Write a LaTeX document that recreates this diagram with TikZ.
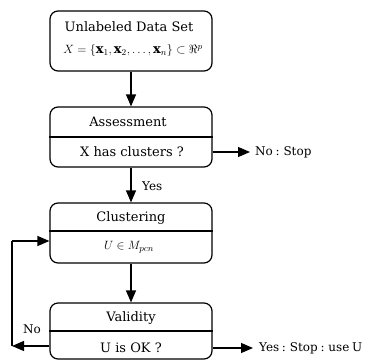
\documentclass[tikz,border=0pt]{standalone}
\usepackage{fontspec}
\setmainfont{DejaVu Serif}
\usetikzlibrary{arrows.meta}
\newcommand\myoutfnt{\fontsize{12}{14}\selectfont\spaceskip=0.22em plus 0.05em\relax}
\tikzset{
  box/.style={draw, line width=1.2pt, rounded corners=8pt, minimum width=162pt, inner sep=0pt},
  divider/.style={line width=1.8pt},
  txt/.style={inner sep=0pt, font=\fontsize{13}{15}\selectfont},
  outtxt/.style={inner sep=0pt, anchor=west, font=\myoutfnt},
  arr/.style={line width=1.2pt, -{Triangle[length=12pt,width=10pt]}},
  ln/.style={line width=1.2pt}
}
\begin{document}
\begin{tikzpicture}[x=1pt,y=-1pt]
\useasboundingbox (0,0) rectangle (369,361);
% boxes
\node[box, minimum height=60pt] (b1) at (131,41) {};
\node[box, minimum height=60pt] (b2) at (131,137) {};
\node[box, minimum height=60pt] (b3) at (131,233) {};
\node[box, minimum height=56pt] (b4) at (131,331) {};
% dividers
\coordinate (d2) at (0,137);
\coordinate (d3) at (0,231);
\coordinate (d4) at (0,331);
\draw[divider] (b2.west |- d2) -- (b2.east |- d2);
\draw[divider] (b3.west |- d3) -- (b3.east |- d3);
\draw[divider] (b4.west |- d4) -- (b4.east |- d4);
% texts
\node[txt] (t1a) at (129,27) {Unlabeled Data Set};
\node[txt] (t1b) at (133,51) {$X=\{\mathbf{x}_1,\mathbf{x}_2,\ldots,\mathbf{x}_n\}\subset\Re^p$};
\node[txt] (t2a) at (128,122) {Assessment};
\node[txt] (t2b) at (132,152) {X has clusters ?};
\node[txt] (t3a) at (131,218) {Clustering};
\node[txt] (t3b) at (129,247) {$U\in M_{pcn}$};
\node[txt] (t4a) at (131,318) {Validity};
\node[txt] (t4b) at (131,348) {U is OK ?};
% outputs
\node[outtxt] (nostop) at (255,152) {No : Stop};
\node[outtxt] (yesstop) at (259,348) {Yes : Stop : use U};
\node[outtxt] (yes) at (142,186) {Yes};
\node[outtxt, anchor=center] (no) at (32,329) {No};
% arrows
\coordinate (e2) at (250,152);
\coordinate (e4) at (253,348);
\draw[arr] (b1.south) -- (b2.north);
\draw[arr] (b2.south) -- (b3.north);
\draw[arr] (b3.south) -- (b4.north);
\draw[arr] (b2.east |- e2) -- (e2);
\draw[arr] (b4.east |- e4) -- (e4);
\coordinate (c1) at (12,346);
\coordinate (c2) at (12,241);
\draw[arr] (b4.west |- c1) -- (c1);
\draw[ln] (c1) -- (c2);
\draw[arr] (c2) -- (b3.west |- c2);
\end{tikzpicture}
\end{document}
